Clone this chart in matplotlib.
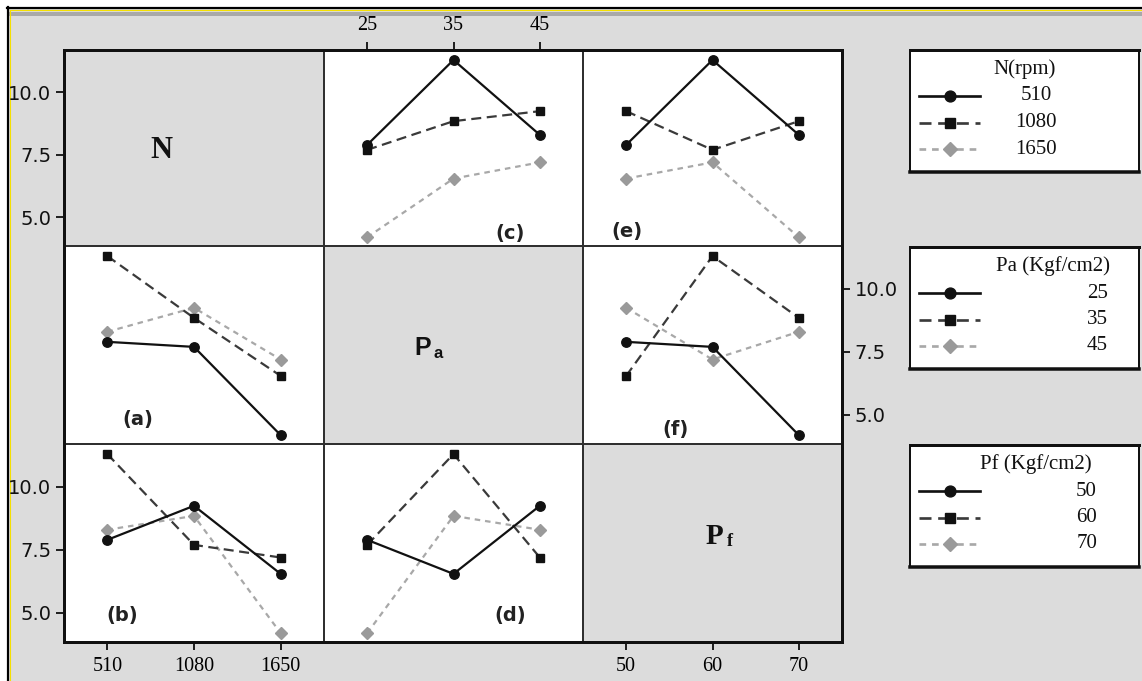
import matplotlib
matplotlib.use('Agg')
import numpy as np
import matplotlib.pyplot as plt
from matplotlib.patches import Rectangle
from matplotlib.lines import Line2D

# ---------------- data ----------------
N_levels = [510, 1080, 1650]
Pa_levels = [25, 35, 45]
Pf_levels = [50, 60, 70]

# mean response tables (rows: first factor levels, cols: second factor levels)
mean_N_Pa = [[7.9, 11.3, 8.3],
             [7.7, 8.85, 9.25],
             [4.2, 6.55, 7.2]]
mean_N_Pf = [[7.9, 11.3, 8.3],
             [9.25, 7.7, 8.85],
             [6.55, 7.2, 4.2]]
mean_Pa_Pf = [[7.9, 7.7, 4.2],
              [6.55, 11.3, 8.85],
              [9.25, 7.2, 8.3]]

y_ticks = [5.0, 7.5, 10.0]
y_tick_labels = ['5.0', '7.5', '10.0']
factor_levels = [N_levels, Pa_levels, Pf_levels]
legend_titles = ['N(rpm)', 'Pa (Kgf/cm2)', 'Pf (Kgf/cm2)']
panel_tags = {(0, 1): '(c)', (0, 2): '(e)', (1, 0): '(a)',
              (1, 2): '(f)', (2, 0): '(b)', (2, 1): '(d)'}

A = np.array(mean_N_Pa)
B = np.array(mean_N_Pf)
C = np.array(mean_Pa_Pf)
# panel (r, c): lines = factor r, x = factor c ; table[line_level][x_level]
tables = {(0, 1): A, (0, 2): B, (1, 0): A.T, (1, 2): C, (2, 0): B.T, (2, 1): C.T}

# ---------------- layout ----------------
W, H = 1142, 681
fig = plt.figure(figsize=(W / 100, H / 100), dpi=100, facecolor='#dcdcdc')

def rect(x0, y0, x1, y1):
    return [x0 / W, 1 - y1 / H, (x1 - x0) / W, (y1 - y0) / H]

PX = 0.72  # points per pixel

# background decorations
bg = fig.add_axes([0, 0, 1, 1], zorder=0)
bg.set_xlim(0, W); bg.set_ylim(H, 0); bg.axis('off')
bg.add_patch(Rectangle((0, 0), W, 7, color='white', lw=0))
bg.add_patch(Rectangle((0, 0), 7, H, color='white', lw=0))
bg.add_patch(Rectangle((9, 12), W, 4, color='#a9a9a9', lw=0))
bg.add_line(Line2D([8, 8], [7, H], color='black', lw=2.2 * PX))
bg.add_line(Line2D([7, W], [8, 8], color='black', lw=2.2 * PX))
bg.add_line(Line2D([9.6, 9.6], [9.6, H], color='#f5e000', lw=1.1 * PX))
bg.add_line(Line2D([9.6, W], [9.6, 9.6], color='#f5e000', lw=1.1 * PX))

col_edges = [64, 324, 583, 842]
row_edges = [50, 246, 444, 642]
ylim = (3.85, 11.7)

line_styles = [
    dict(color='#111111', ls='-', marker='o', mfc='#111111', mec='#111111', ms=6.8, lw=1.6),
    dict(color='#3a3a3a', ls=(0, (4.5, 2.5)), marker='s', mfc='#111111', mec='#111111', ms=6.2, lw=1.6),
    dict(color='#a8a8a8', ls=(0, (2.5, 2.2)), marker='D', mfc='#9a9a9a', mec='#9a9a9a', ms=6.2, lw=1.6),
]

serif = 'Liberation Serif'
sans = 'DejaVu Sans'
tick_kw = dict(length=6, width=2 * PX * 1.0, color='#222222')

axes = {}
for r in range(3):
    for c in range(3):
        ax = fig.add_axes(rect(col_edges[c], row_edges[r], col_edges[c + 1], row_edges[r + 1]), zorder=2)
        axes[(r, c)] = ax
        lv = factor_levels[c]
        step = lv[1] - lv[0]
        ax.set_xlim(lv[0] - 0.5 * step, lv[-1] + 0.5 * step)
        ax.set_ylim(*ylim)
        for s in ax.spines.values():
            s.set_linewidth(2 * PX)
            s.set_color('#303030')
        ax.set_xticks([]); ax.set_yticks([])
        if r == c:
            ax.set_facecolor('#dcdcdc')
        else:
            ax.set_facecolor('white')
            tab = tables[(r, c)]
            for k in range(3):
                ax.plot(lv, tab[k], zorder=5 - k, **line_styles[k])

# tick labels on the outer edges
def setx(ax, lv, top=False):
    ax.set_xticks(lv)
    ax.set_xticklabels([str(v) for v in lv], fontfamily=serif, fontsize=14.5)
    if top:
        ax.xaxis.tick_top()
    ax.tick_params(axis='x', pad=5, **tick_kw)

def sety(ax, right=False):
    ax.set_yticks(y_ticks)
    ax.set_yticklabels(y_tick_labels, fontfamily=sans, fontsize=14, color='#111111')
    if right:
        ax.yaxis.tick_right()
    ax.tick_params(axis='y', pad=3, **tick_kw)

sety(axes[(0, 0)])
sety(axes[(2, 0)])
sety(axes[(1, 2)], right=True)
setx(axes[(0, 1)], Pa_levels, top=True)
setx(axes[(2, 0)], N_levels)
setx(axes[(2, 2)], Pf_levels)

# panel tags
tag_pos = {(0, 1): (510, 234), (0, 2): (627, 232), (1, 0): (138, 420),
           (1, 2): (675, 430), (2, 0): (122, 616), (2, 1): (510, 616)}

fg = fig.add_axes([0, 0, 1, 1], zorder=10)
fg.set_xlim(0, W); fg.set_ylim(H, 0); fg.axis('off')
fg.patch.set_alpha(0)

for key, tag in panel_tags.items():
    x, y = tag_pos[key]
    fg.text(x, y, tag, fontfamily=sans, fontsize=14, color='#222222',
            ha='center', va='center', fontweight='bold')

# diagonal factor labels
fg.text(161, 151, 'N', fontfamily=serif, fontweight='bold', fontsize=22,
        ha='center', va='center', color='#111111')
fg.text(423, 348, 'P', fontfamily='Liberation Sans', fontweight='bold', fontsize=18,
        ha='center', va='center', color='#111111')
fg.text(438, 354, 'a', fontfamily='Liberation Sans', fontweight='bold', fontsize=12,
        ha='center', va='center', color='#111111')
fg.text(714, 536, 'P', fontfamily=serif, fontweight='bold', fontsize=21,
        ha='center', va='center', color='#111111')
fg.text(730, 542, 'f', fontfamily=serif, fontweight='bold', fontsize=13,
        ha='center', va='center', color='#111111')

# outer frame of the matrix
fg.add_patch(Rectangle((col_edges[0], row_edges[0]), col_edges[-1] - col_edges[0],
                       row_edges[-1] - row_edges[0], fill=False, ec='#111111', lw=3 * PX))

# legends
leg_tops = [50, 247, 445]
for i, T in enumerate(leg_tops):
    fg.add_patch(Rectangle((910, T), 229, 122, facecolor='white', edgecolor='#111111', lw=2 * PX))
    fg.add_line(Line2D([910, 1139], [T + 122, T + 122], color='#111111', lw=3.5 * PX))
    fg.add_line(Line2D([910, 1139], [T, T], color='#111111', lw=3 * PX))
    levels = factor_levels[i]
    if i == 0:
        fg.text(1025, T + 19, legend_titles[i], fontfamily=serif, fontsize=15,
                ha='center', va='center', color='#111111')
    else:
        fg.text(1053 if i == 1 else 1036, T + 19, legend_titles[i], fontfamily=serif, fontsize=15,
                ha='center', va='center', color='#111111')
    for k in range(3):
        yk = T + 46 + k * 26.5
        st = line_styles[k]
        fg.add_line(Line2D([919, 980], [yk, yk], color=st['color'], ls=st['ls'],
                           lw=st['lw'] * 1.2))
        fg.add_line(Line2D([949.5], [yk], marker=st['marker'], mfc=st['mfc'], mec=st['mec'],
                           ms=st['ms'] * 1.15, ls='none'))
        if i == 0:
            fg.text(1036, yk, str(levels[k]), fontfamily=serif, fontsize=15,
                    ha='center', va='center', color='#111111')
        else:
            fg.text(1108 if i == 1 else 1097, yk, str(levels[k]), fontfamily=serif, fontsize=15,
                    ha='right', va='center', color='#111111')

fig.savefig('out.png', dpi=100, facecolor=fig.get_facecolor())
